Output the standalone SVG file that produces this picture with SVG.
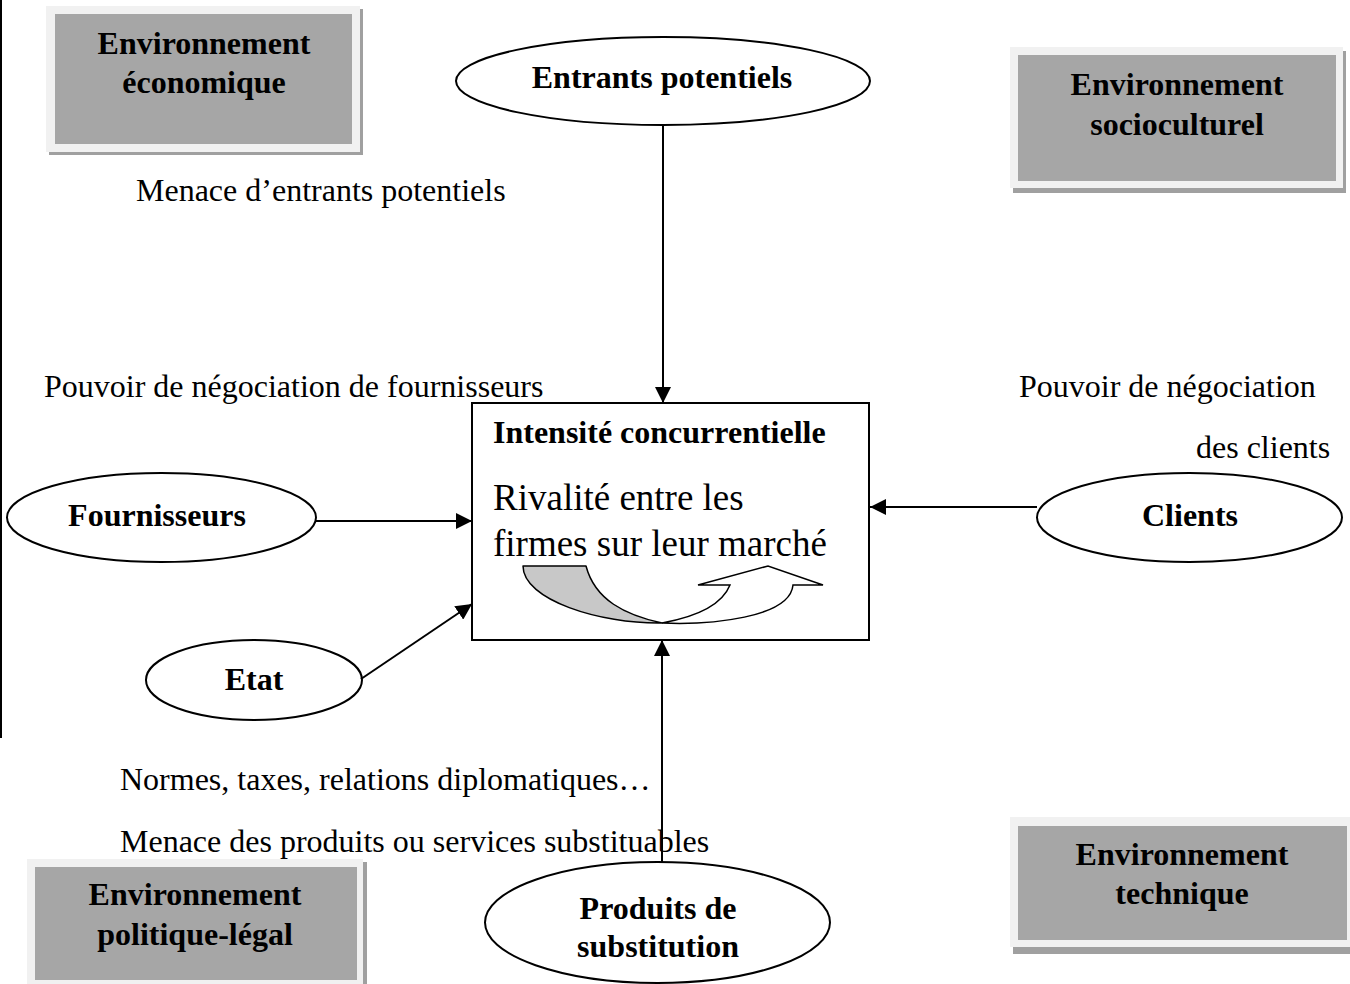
<svg xmlns="http://www.w3.org/2000/svg" width="1350" height="984" viewBox="0 0 1350 984">
  <style>
    .bold { font-family: "Liberation Serif", "Times New Roman", serif; font-weight: bold; font-size: 32px; fill: #000; }
    .plain { font-family: "Liberation Serif", "Times New Roman", serif; font-size: 32px; fill: #000; }
    .big { font-family: "Liberation Serif", "Times New Roman", serif; font-size: 37px; fill: #000; }
    .mid { text-anchor: middle; }
    .oval { fill: #fff; stroke: #000; stroke-width: 2; }
    .shadow { fill: #a0a0a0; }
    .frame { fill: #f1f1f1; }
    .panel { fill: #a6a6a6; }
    .link { fill: none; stroke: #000; stroke-width: 2; marker-end: url(#head); }
  </style>
  <defs>
    <marker id="head" markerUnits="userSpaceOnUse" viewBox="0 0 16 16" refX="16" refY="8" markerWidth="16" markerHeight="16" orient="auto">
      <path d="M0,0 L16,8 L0,16 Z" fill="#000"/>
    </marker>
  </defs>

  <rect width="1350" height="984" fill="#fff"/>
  <!-- page edge -->
  <line x1="1" y1="0" x2="1" y2="738" stroke="#000" stroke-width="2"/>

  <!-- environment panels -->
  <g id="env-economique">
    <rect class="shadow" x="49" y="9" width="314" height="146"/>
    <rect class="frame" x="46" y="6" width="314" height="146"/>
    <rect class="panel" x="55" y="14" width="297" height="130"/>
    <text class="bold mid" x="204" y="54">Environnement</text>
    <text class="bold mid" x="204" y="93">économique</text>
  </g>
  <g id="env-socioculturel">
    <rect class="shadow" x="1013" y="51" width="333" height="142"/>
    <rect class="frame" x="1010" y="47" width="333" height="141"/>
    <rect class="panel" x="1018" y="55" width="318" height="126"/>
    <text class="bold mid" x="1177" y="95">Environnement</text>
    <text class="bold mid" x="1177" y="135">socioculturel</text>
  </g>
  <g id="env-politique">
    <rect class="shadow" x="31" y="862" width="336" height="130"/>
    <rect class="frame" x="27" y="859" width="336" height="130"/>
    <rect class="panel" x="35" y="867" width="322" height="113"/>
    <text class="bold mid" x="195" y="905">Environnement</text>
    <text class="bold mid" x="195" y="945">politique-légal</text>
  </g>
  <g id="env-technique">
    <rect class="shadow" x="1013" y="821" width="345" height="133"/>
    <rect class="frame" x="1010" y="817" width="345" height="130"/>
    <rect class="panel" x="1018" y="826" width="329" height="114"/>
    <text class="bold mid" x="1182" y="865">Environnement</text>
    <text class="bold mid" x="1182" y="904">technique</text>
  </g>

  <!-- forces -->
  <g id="entrants">
    <ellipse class="oval" cx="663" cy="81" rx="207" ry="44"/>
    <text class="bold mid" x="662" y="88">Entrants potentiels</text>
  </g>
  <g id="fournisseurs">
    <ellipse class="oval" cx="161.5" cy="517.5" rx="154.5" ry="44.5"/>
    <text class="bold mid" x="157" y="526">Fournisseurs</text>
  </g>
  <g id="clients">
    <ellipse class="oval" cx="1189.5" cy="517.5" rx="152.5" ry="44.5"/>
    <text class="bold mid" x="1190" y="526">Clients</text>
  </g>
  <g id="etat">
    <ellipse class="oval" cx="254" cy="680" rx="108" ry="40"/>
    <text class="bold mid" x="254" y="690">Etat</text>
  </g>
  <g id="substitution">
    <ellipse class="oval" cx="657.5" cy="922.5" rx="172.5" ry="60.5"/>
    <text class="bold mid" x="658" y="919">Produits de</text>
    <text class="bold mid" x="658" y="957">substitution</text>
  </g>

  <!-- central rivalry box -->
  <g id="intensite">
    <rect x="472" y="403" width="397" height="237" fill="#fff" stroke="#000" stroke-width="2"/>
    <text class="bold" x="493" y="443">Intensité concurrentielle</text>
    <text class="big" x="493" y="510">Rivalité entre les</text>
    <text class="big" x="493" y="556">firmes sur leur marché</text>
    <!-- curved up arrow -->
    <path d="M523,566 H586 C595,600 625,615 662,623 C600,624 523,600 523,566 Z" fill="#c8c8c8" stroke="#000" stroke-width="1.5" stroke-linejoin="round"/>
    <path d="M662,623 C710,625 790,618 793,585 H823 L768,566 L698,585 H730 C722,605 695,617 662,623 Z" fill="#fff" stroke="#000" stroke-width="1.5" stroke-linejoin="miter"/>
  </g>

  <!-- labels -->
  <g id="labels">
    <text class="plain" x="136" y="201">Menace d’entrants potentiels</text>
    <text class="plain" x="44" y="397">Pouvoir de négociation de fournisseurs</text>
    <text class="plain" x="1019" y="397">Pouvoir de négociation</text>
    <text class="plain" x="1196" y="458">des clients</text>
    <text class="plain" x="120" y="790">Normes, taxes, relations diplomatiques…</text>
    <text class="plain" x="120" y="852">Menace des produits ou services substituables</text>
  </g>

  <!-- connectors -->
  <g id="connectors">
    <path class="link" d="M663,126 V403"/>
    <path class="link" d="M316,521 H472"/>
    <path class="link" d="M1037,507 H870"/>
    <path class="link" d="M361,679 L472,604"/>
    <path class="link" d="M662,862 V640"/>
  </g>
</svg>
